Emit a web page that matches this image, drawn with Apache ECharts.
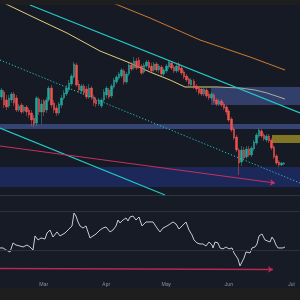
<!DOCTYPE html>
<html>
<head>
<meta charset="utf-8">
<script src="https://cdn.jsdelivr.net/npm/echarts@6/dist/echarts.min.js"></script>
<style>
  html, body { margin: 0; padding: 0; background: #1e1e1e; }
  #main { width: 300px; height: 300px; }
</style>
</head>
<body>
<div id="main"></div>
<script>
var slotCount = 120; //daily slots on the x axis, the last ones are empty space on the right
var monthLabels = ['Mar', 'Apr', 'May', 'Jun', 'Jul'];
var monthIndex = [17, 42, 66, 91, 116];

//daily candles
var opens = [3030, 3080, 3000, 2940, 3000, 3060, 3020, 2900, 2950, 2890,
  2930, 2900, 2870, 2820, 2770, 3010, 2880, 2990, 2900, 3000,
  3120, 2970, 2920, 2870, 2950, 3020, 3060, 3100, 3160, 3230,
  3350, 3160, 3090, 3140, 3110, 3030, 3120, 3030, 3000, 2960,
  2940, 3000, 3050, 3100, 3040, 3130, 3180, 3220, 3240, 3290,
  3180, 3260, 3350, 3320, 3390, 3400, 3340, 3280, 3340, 3380,
  3340, 3300, 3360, 3300, 3330, 3260, 3290, 3330, 3370, 3330,
  3290, 3360, 3320, 3280, 3240, 3210, 3150, 3190, 3140, 3120,
  3110, 3060, 3100, 3060, 3020, 3050, 3000, 2960, 2990, 2960,
  2930, 2890, 2810, 2710, 2630, 2500, 2380, 2500, 2430, 2510,
  2450, 2510, 2570, 2640, 2690, 2650, 2600, 2640, 2600, 2530,
  2440, 2380, 2350, 2360];
var closes = [3100, 2950, 2930, 3020, 3060, 2970, 2900, 2940, 2880, 2930,
  2880, 2850, 2800, 2760, 3020, 2880, 2960, 2880, 3000, 3120,
  2950, 2900, 2870, 2960, 3020, 3070, 3120, 3170, 3240, 3360,
  3150, 3100, 3140, 3070, 3030, 3120, 3030, 2970, 2960, 3000,
  3000, 3080, 3120, 3030, 3140, 3200, 3230, 3260, 3300, 3180,
  3260, 3350, 3310, 3390, 3320, 3340, 3270, 3350, 3380, 3320,
  3290, 3360, 3300, 3340, 3260, 3300, 3340, 3380, 3320, 3290,
  3340, 3300, 3270, 3230, 3200, 3160, 3200, 3130, 3110, 3070,
  3060, 3110, 3040, 3020, 3060, 2990, 2960, 2990, 2950, 2920,
  2880, 2800, 2700, 2620, 2500, 2370, 2500, 2420, 2510, 2450,
  2520, 2580, 2650, 2700, 2640, 2610, 2640, 2590, 2520, 2430,
  2370, 2350, 2370, 2370];
var lows = [3000, 2920, 2900, 2920, 2970, 2940, 2880, 2880, 2860, 2870,
  2840, 2820, 2740, 2730, 2740, 2850, 2760, 2840, 2870, 2980,
  2920, 2870, 2840, 2850, 2920, 3000, 3040, 3080, 3140, 3210,
  3130, 3070, 3060, 3050, 3010, 3010, 3000, 2940, 2930, 2940,
  2920, 2980, 3020, 3010, 3020, 3110, 3160, 3200, 3220, 3150,
  3160, 3240, 3290, 3300, 3300, 3310, 3250, 3260, 3320, 3300,
  3270, 3280, 3280, 3270, 3240, 3240, 3270, 3310, 3300, 3270,
  3270, 3280, 3250, 3210, 3180, 3140, 3130, 3110, 3080, 3050,
  3040, 3040, 3020, 3000, 3000, 2970, 2940, 2940, 2930, 2900,
  2850, 2780, 2680, 2600, 2480, 2250, 2340, 2400, 2410, 2430,
  2430, 2490, 2550, 2620, 2620, 2590, 2580, 2570, 2500, 2410,
  2350, 2330, 2340, 2350];
var highs = [3120, 3100, 3050, 3050, 3080, 3080, 3050, 2960, 2970, 2950,
  2950, 2920, 2900, 2850, 3040, 3030, 3000, 3010, 3030, 3140,
  3150, 3000, 2950, 2980, 3050, 3100, 3150, 3200, 3260, 3380,
  3370, 3200, 3160, 3160, 3140, 3160, 3140, 3050, 3030, 3020,
  3020, 3110, 3140, 3120, 3160, 3220, 3250, 3280, 3320, 3310,
  3280, 3370, 3380, 3430, 3420, 3430, 3360, 3370, 3400, 3400,
  3370, 3380, 3380, 3360, 3350, 3320, 3360, 3400, 3390, 3350,
  3360, 3380, 3340, 3300, 3260, 3230, 3220, 3210, 3160, 3140,
  3130, 3130, 3120, 3090, 3080, 3070, 3020, 3010, 3010, 2980,
  2950, 2910, 2830, 2730, 2650, 2520, 2540, 2530, 2540, 2540,
  2540, 2600, 2670, 2720, 2710, 2670, 2660, 2660, 2620, 2550,
  2460, 2400, 2380, 2380];

//moving averages [slot, price]
var yellowMA = [[0, 3990], [3.2, 3950], [13.2, 3830], [26.8, 3670], [40, 3490], [52, 3370], [60, 3280],
  [68, 3200], [74, 3130], [86.8, 3130], [96, 3120], [102, 3100], [106.8, 3070], [114, 3010]];
var orangeMA = [[45, 3970], [47.2, 3950], [60, 3820], [80, 3600], [100, 3430], [114, 3300]];

//trendlines [slot, price]
var channelTop = [[12, 3950], [120, 2870]];
var channelBottom = [[0, 2720], [66, 2050]];
var dottedLine = [[0, 3400], [120, 2170]];
var pinkArrow = [[0, 2540], [110, 2170]];

//zones [slot from, slot to, price top, price bottom]
var zones = [[0, 120, 2330, 2130], [0, 120, 2760, 2710], [84.4, 120, 3130, 2950], [108.8, 120, 2650, 2570]];
var zoneColors = ['rgba(41,80,230,0.27)', 'rgba(90,120,210,0.45)', 'rgba(90,120,210,0.4)', 'rgba(200,180,40,0.6)'];

//oscillator in the lower pane [slot, value]
var rsi = [[0, 32.8], [1.2, 32.8], [2.4, 30.7], [4, 28.7], [5.2, 37.9], [6.4, 35.8], [8, 34.8], [9.2, 33.8],
  [10.8, 35.8], [12, 33.8], [13.2, 30.7], [14, 45.1], [15.2, 41], [16.4, 43], [18, 42], [18.8, 48.1],
  [20, 51.2], [21.2, 44], [22.8, 49.2], [24, 45.1], [24.8, 44], [26, 48.1], [27.2, 51.2], [28, 53.2],
  [28.8, 55.3], [29.6, 68.6], [30.4, 65.5], [31.2, 59.4], [32, 55.3], [33.2, 53.2], [34.4, 55.3], [35.2, 49.2],
  [36, 43], [37.2, 45.1], [38.4, 47.1], [40, 51.2], [41.2, 53.2], [42.4, 54.3], [44, 49.2], [45.2, 51.2],
  [46.4, 55.3], [47.2, 61.4], [48, 58.4], [49.2, 61.4], [50.4, 63.5], [51.2, 60.4], [52, 64.5], [53.2, 65.5],
  [54.4, 61.4], [55.6, 64.5], [56.8, 55.3], [58.4, 59.4], [60, 59.4], [61.2, 59.4], [62.8, 53.2], [64, 49.2],
  [65.2, 53.2], [66.8, 55.3], [68, 57.3], [69.2, 59.4], [70.4, 57.3], [71.6, 52.2], [73.2, 56.3], [74.4, 59.4],
  [75.6, 51.2], [76.8, 46.1], [77.6, 41], [78.8, 37.9], [80, 36.9], [81.2, 36.9], [82.4, 34.8], [83.6, 38.9],
  [84.8, 35.8], [85.2, 32.8], [86, 38.9], [87.2, 37.9], [88, 32.8], [89.2, 31.8], [90.4, 33.8], [91.6, 31.8],
  [92.8, 32.8], [93.6, 27.7], [94.4, 24.6], [95.2, 21.5], [96, 14.4], [96.8, 15.4], [97.6, 22.5], [98.4, 28.7],
  [99.2, 30.7], [100, 27.7], [100.8, 32.8], [102, 33.8], [102.8, 36.9], [103.6, 45.1], [104.8, 47.1], [106, 41],
  [106.8, 43], [108, 38.9], [108.8, 44], [109.6, 41], [110.4, 35.8], [111.2, 32.8], [112, 31.8], [113.2, 32.8],
  [114, 33.8]];
var rsiLevels = [70, 30];
var rsiArrow = [[0, 11.8], [109.2, 10.8]];

var categories = [];
for (var i = 0; i < slotCount; i++) {
  categories.push('d' + i);
}
var candles = [];
for (var k = 0; k < opens.length; k++) {
  candles.push([opens[k], closes[k], lows[k], highs[k]]);
}

var chart = echarts.init(document.getElementById('main'));

function lineSeries(data, color, width, type, z) {
  return {
    type: 'line',
    xAxisIndex: 1,
    yAxisIndex: 0,
    data: data,
    showSymbol: false,
    symbol: 'none',
    silent: true,
    z: z,
    lineStyle: { color: color, width: width, type: type }
  };
}

chart.setOption({
  backgroundColor: '#1e1e1e',
  animation: false,
  grid: [
    { left: 0, right: 0, top: 5, height: 190, show: true, backgroundColor: '#161a25', borderWidth: 0 },
    { left: 0, right: 0, top: 196, height: 92, show: true, backgroundColor: '#171b26', borderWidth: 0 }
  ],
  xAxis: [
    {
      type: 'category', gridIndex: 0, data: categories,
      axisLine: { show: true, lineStyle: { color: '#30343f', width: 1 } },
      axisTick: { show: false }, axisLabel: { show: false }, splitLine: { show: false }
    },
    { type: 'value', gridIndex: 0, min: 0, max: slotCount, show: false },
    {
      type: 'category', gridIndex: 1, data: categories,
      axisLine: { show: false }, axisTick: { show: false }, splitLine: { show: false },
      axisLabel: {
        inside: true, margin: 1, fontSize: 5, color: '#8a8e99', fontFamily: 'Roboto',
        interval: function (idx) { return monthIndex.indexOf(idx) >= 0; },
        formatter: function (val, idx) { return monthLabels[monthIndex.indexOf(idx)] || ''; }
      }
    },
    { type: 'value', gridIndex: 1, min: 0, max: slotCount, show: false }
  ],
  yAxis: [
    { type: 'value', gridIndex: 0, min: 2050, max: 3950, show: false },
    { type: 'value', gridIndex: 1, min: -8.2, max: 86, show: false }
  ],
  series: [
    lineSeries(orangeMA, '#cf7a2e', 1, 'solid', 1),
    lineSeries(yellowMA, '#e0cf7a', 1, 'solid', 1),
    {
      type: 'custom',
      xAxisIndex: 1,
      yAxisIndex: 0,
      z: 2,
      silent: true,
      data: zones,
      renderItem: function (params, api) {
        var p1 = api.coord([api.value(0), api.value(2)]);
        var p2 = api.coord([api.value(1), api.value(3)]);
        return {
          type: 'rect',
          shape: { x: p1[0], y: p1[1], width: p2[0] - p1[0], height: p2[1] - p1[1] },
          style: { fill: zoneColors[params.dataIndex] }
        };
      }
    },
    {
      type: 'candlestick',
      xAxisIndex: 0,
      yAxisIndex: 0,
      z: 3,
      barWidth: 2,
      data: candles,
      itemStyle: {
        color: '#26a69a', color0: '#ef5350',
        borderColor: '#26a69a', borderColor0: '#ef5350', borderWidth: 0.5
      }
    },
    lineSeries(channelTop, '#22c9c9', 1.2, 'solid', 4),
    lineSeries(channelBottom, '#22c9c9', 1.2, 'solid', 4),
    lineSeries(dottedLine, '#22c9c9', 1, [1.2, 2], 4),
    {
      type: 'line',
      xAxisIndex: 1,
      yAxisIndex: 0,
      data: [],
      z: 4,
      markLine: {
        silent: true,
        symbol: ['none', 'arrow'],
        symbolSize: 5,
        label: { show: false },
        lineStyle: { color: '#c6305e', width: 1, type: 'solid' },
        data: [[{ coord: pinkArrow[0] }, { coord: pinkArrow[1] }]]
      }
    },
    {
      type: 'line',
      xAxisIndex: 3,
      yAxisIndex: 1,
      data: rsi,
      showSymbol: false,
      symbol: 'none',
      silent: true,
      lineStyle: { color: '#c8cbd3', width: 1 },
      markLine: {
        silent: true,
        symbol: 'none',
        label: { show: false },
        lineStyle: { color: '#2c303b', width: 1, type: 'solid' },
        data: rsiLevels.map(function (v) { return { yAxis: v }; })
      }
    },
    {
      type: 'line',
      xAxisIndex: 3,
      yAxisIndex: 1,
      data: [],
      markLine: {
        silent: true,
        symbol: ['none', 'arrow'],
        symbolSize: 5,
        label: { show: false },
        lineStyle: { color: '#b8284f', width: 1.6, type: 'solid' },
        data: [[{ coord: rsiArrow[0] }, { coord: rsiArrow[1] }]]
      }
    }
  ]
});
</script>
</body>
</html>
